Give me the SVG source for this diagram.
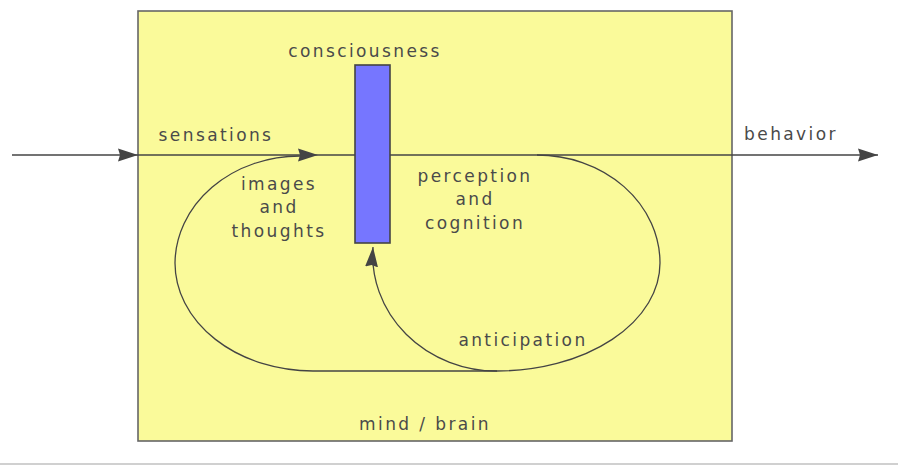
<svg xmlns="http://www.w3.org/2000/svg" width="898" height="466" viewBox="0 0 898 466">
<style>
.t{font-family:"DejaVu Sans","Liberation Sans",sans-serif;font-size:17px;fill:#4a4a4a;letter-spacing:2.4px;text-anchor:middle}
.c{fill:none;stroke:#444;stroke-width:1.6}
.l{fill:none;stroke:#444;stroke-width:1.3}
</style>
<defs>
<marker id="ah" markerWidth="22" markerHeight="14" refX="20" refY="7" orient="auto" markerUnits="userSpaceOnUse">
<path d="M0,0.5 L20,7 L0,13.5 L2,7 Z" fill="#444"/>
</marker>
</defs>
<rect width="898" height="466" fill="#fff"/>
<line x1="0" y1="464" x2="898" y2="464" stroke="#d0d0d0" stroke-width="2"/>
<g id="mind-brain">
<rect x="138" y="11" width="594" height="430" fill="#fafa9a" stroke="#666" stroke-width="1.6"/>
<text class="t" x="425" y="430">mind / brain</text>
</g>
<g id="connectors">
<line class="c" x1="12" y1="155" x2="138" y2="155" marker-end="url(#ah)"/>
<line class="c" x1="138" y1="155" x2="318" y2="155" marker-end="url(#ah)"/>
<line class="c" x1="318" y1="155" x2="878" y2="155" marker-end="url(#ah)"/>
<path class="l" d="M497,371 L313,371 A138,108 0 0 1 175,263 A125,108 0 0 1 300,156"/>
<path class="l" d="M537,155 A123,108 0 0 1 660,263 A163,108 0 0 1 497,371 A124,116 0 0 1 373,247" marker-end="url(#ah)"/>
</g>
<g id="consciousness">
<rect x="355" y="65" width="35" height="178" fill="#7676ff" stroke="#444" stroke-width="1.6"/>
<text class="t" x="365" y="57">consciousness</text>
</g>
<g id="sensations"><text class="t" x="216" y="141">sensations</text></g>
<g id="behavior"><text class="t" x="791" y="140">behavior</text></g>
<g id="images-and-thoughts">
<text class="t" x="279" y="190">images</text>
<text class="t" x="279" y="213">and</text>
<text class="t" x="279" y="237">thoughts</text>
</g>
<g id="perception-and-cognition">
<text class="t" x="475" y="182">perception</text>
<text class="t" x="475" y="205">and</text>
<text class="t" x="475" y="229">cognition</text>
</g>
<g id="anticipation"><text class="t" x="523" y="346">anticipation</text></g>
</svg>
